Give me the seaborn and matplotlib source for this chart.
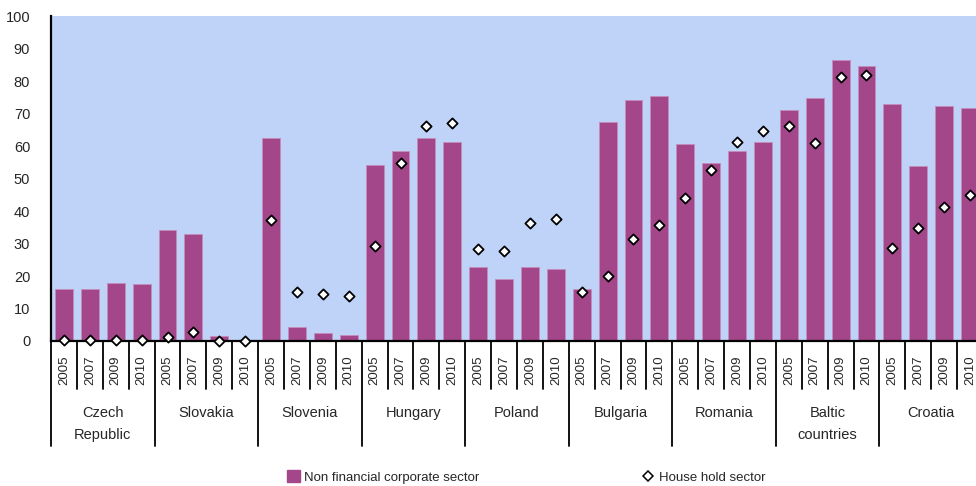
import matplotlib
matplotlib.use("Agg")
import matplotlib.pyplot as plt
import matplotlib.transforms as mtransforms
from matplotlib.patches import Patch
from matplotlib.lines import Line2D
import numpy as np
import pandas as pd
import seaborn as sns

# Loans in foreign currency, share of total (%) by sector
countries = ["Czech\nRepublic", "Slovakia", "Slovenia", "Hungary", "Poland",
             "Bulgaria", "Romania", "Baltic\ncountries", "Croatia"]
years = ["2005", "2007", "2009", "2010"]

corporate = [
    16.1, 16.1, 18.0, 17.4,   # Czech Republic
    34.1, 32.8, 1.4, 0.0,     # Slovakia
    62.4, 4.4, 2.6, 2.0,      # Slovenia
    54.3, 58.6, 62.4, 61.1,   # Hungary
    22.9, 19.2, 22.9, 22.3,   # Poland
    16.1, 67.3, 74.1, 75.3,   # Bulgaria
    60.5, 54.9, 58.6, 61.1,   # Romania
    71.0, 74.7, 86.4, 84.5,   # Baltic countries
    72.8, 53.7, 72.2, 71.6,   # Croatia
]
household = [
    0.3, 0.3, 0.3, 0.3,
    1.2, 2.7, 0.0, 0.0,
    37.2, 15.2, 14.6, 14.0,
    29.2, 54.7, 66.2, 67.0,
    28.2, 27.6, 36.2, 37.5,
    15.2, 19.9, 31.3, 35.6,
    43.9, 52.7, 61.1, 64.6,
    66.3, 60.8, 81.1, 81.7,
    28.5, 34.7, 41.1, 44.8,
]

corp_label = "Non financial corporate sector"
hh_label = "House hold sector"

BAR = "#A3478A"
BG = "#BFD2F8"

slots = [f"{c}|{y}" for c in countries for y in years]
df = pd.DataFrame({
    "slot": slots,
    "year": [y for c in countries for y in years],
    "corporate": corporate,
    "household": household,
})

sns.set_theme(style="white")
plt.rcParams["font.family"] = ["Liberation Sans Narrow", "Liberation Sans", "DejaVu Sans"]

W, H = 976, 486
fig = plt.figure(figsize=(W / 100, H / 100), dpi=100)
left, right, top, bottom = 51, 983, 16, 341
ax = fig.add_axes([left / W, 1 - bottom / H, (right - left) / W, (bottom - top) / H])
ax.set_facecolor(BG)

sns.barplot(data=df, x="slot", y="corporate", order=slots, color=BAR,
            saturation=1, width=0.69, edgecolor="#C58DB8", linewidth=0.6, ax=ax)
sns.stripplot(data=df, x="slot", y="household", order=slots, jitter=False,
              marker="D", color="white", edgecolor="black", linewidth=1.3,
              size=5.2, ax=ax, zorder=5, clip_on=False)

ax.set_xlim(-0.5, len(slots) - 0.5)
ax.set_ylim(0, 100)
ax.set_yticks(np.arange(0, 101, 10))
ax.tick_params(axis="y", length=0, pad=15, labelsize=10.5)
ax.set_xticks([])
ax.set_xlabel("")
ax.set_ylabel("")
for s in ("top", "right"):
    ax.spines[s].set_visible(False)
for s in ("left", "bottom"):
    ax.spines[s].set_color("black")
    ax.spines[s].set_linewidth(1.6)

# Two-level category axis below the plot
trans = mtransforms.blended_transform_factory(ax.transData, ax.transAxes)
hpx = bottom - top


def axes_y(px_below):
    return -px_below / hpx


for i in range(len(slots) + 1):
    depth = 105 if i % len(years) == 0 else 48
    ax.add_line(Line2D([i - 0.5, i - 0.5], [0, axes_y(depth)], transform=trans,
                       color="black", linewidth=1.3, clip_on=False))

for i, y in enumerate(df["year"]):
    ax.text(i, axes_y(29), y, transform=trans, rotation=90, ha="center",
            va="center", fontsize=9.5)

for g, c in enumerate(countries):
    xc = g * len(years) + (len(years) - 1) / 2
    ax.text(xc, axes_y(65), c, transform=trans, ha="center", va="top",
            fontsize=10.5, linespacing=1.7)

handles = [
    Patch(facecolor=BAR, edgecolor=BAR, label=corp_label),
    Line2D([], [], linestyle="none", marker="D", markersize=5,
           markerfacecolor="white", markeredgecolor="black",
           markeredgewidth=1.1, label=hh_label),
]
fig.legend(handles=handles, loc="center left", bbox_to_anchor=(287 / W, 1 - 477 / H),
           ncol=2, frameon=False, fontsize=9.5, handlelength=1.0, handleheight=1.0,
           handletextpad=0.3, columnspacing=12.3, borderpad=0, borderaxespad=0)

fig.savefig("out.png", dpi=100, facecolor="white")
